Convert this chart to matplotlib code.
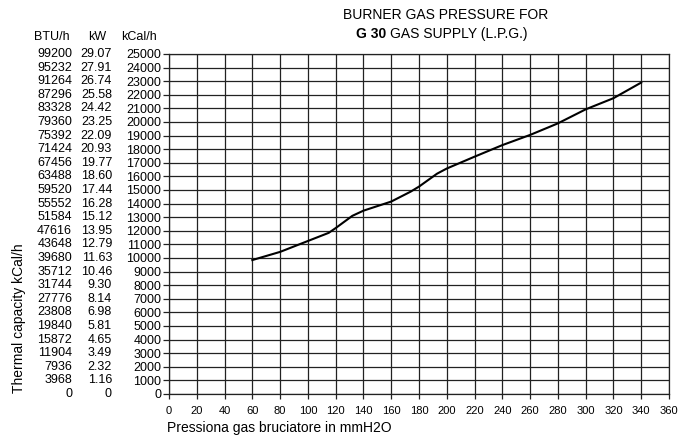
import matplotlib
matplotlib.use("Agg")

import matplotlib.pyplot as plt
import matplotlib.transforms as mtransforms


plt.rcParams["font.family"] = ["Liberation Sans", "DejaVu Sans"]

# curve (pressure mmH2O -> kCal/h)
pressure = [60, 80, 100, 115, 120, 132, 140, 160, 174, 180, 193, 200,
            220, 240, 260, 273, 280, 300, 320, 340]
kcal = [9850, 10450, 11250, 11850, 12200, 13100, 13480, 14150, 14880,
        15250, 16200, 16580, 17450, 18300, 19050, 19600, 19900, 20930,
        21750, 22900]

# left-hand scale columns
kcal_ticks = list(range(0, 26000, 1000))
kw_labels = ["0", "1.16", "2.32", "3.49", "4.65", "5.81", "6.98", "8.14",
             "9.30", "10.46", "11.63", "12.79", "13.95", "15.12", "16.28",
             "17.44", "18.60", "19.77", "20.93", "22.09", "23.25", "24.42",
             "25.58", "26.74", "27.91", "29.07"]
btu_labels = ["0", "3968", "7936", "11904", "15872", "19840", "23808",
              "27776", "31744", "35712", "39680", "43648", "47616", "51584",
              "55552", "59520", "63488", "67456", "71424", "75392", "79360",
              "83328", "87296", "91264", "95232", "99200"]
x_ticks = list(range(0, 380, 20))


W, H = 690, 437

fig = plt.figure(figsize=(6.9, 4.37), dpi=100, facecolor="white")
ax = fig.add_axes([169 / W, 1 - 394 / H, 500 / W, 340 / H])

ax.plot(pressure, kcal, color="black", linewidth=1.5, solid_joinstyle="round")

ax.set_xlim(0, 360)
ax.set_ylim(0, 25000)
ax.set_xticks(x_ticks)
ax.set_yticks(kcal_ticks)
ax.set_yticklabels([str(v) for v in kcal_ticks])

ax.grid(True, color="#222222", linewidth=0.9)
for sp in ax.spines.values():
    sp.set_color("#222222")
    sp.set_linewidth(0.9)

ax.tick_params(axis="both", direction="out", width=0.9, color="#222222")
ax.tick_params(axis="x", length=3.5, labelsize=8, pad=5)
ax.tick_params(axis="y", length=4, labelsize=9, pad=1.5)

# extra scale columns (kW, BTU/h) aligned to the kCal/h ticks
trans = mtransforms.blended_transform_factory(fig.transFigure, ax.transData)
for v, kw, btu in zip(kcal_ticks, kw_labels, btu_labels):
    ax.text(112 / W, v, kw, transform=trans, ha="right", va="center",
            fontsize=9, clip_on=False)
    ax.text(72 / W, v, btu, transform=trans, ha="right", va="center",
            fontsize=9, clip_on=False)

header_y = 1 - 37 / H
fig.text(70 / W, header_y, "BTU/h", ha="right", va="center", fontsize=9)
fig.text(106 / W, header_y, "kW", ha="right", va="center", fontsize=9)
fig.text(157 / W, header_y, "kCal/h", ha="right", va="center", fontsize=9)

# title
fig.text(446 / W, 1 - 15 / H, "BURNER GAS PRESSURE FOR",
         ha="center", va="center", fontsize=10)
t1 = fig.text(356 / W, 1 - 34 / H, "G 30", ha="left", va="center",
              fontsize=10, fontweight="bold")
fig.canvas.draw()
bb = t1.get_window_extent()
fig.text((bb.x1 + 4) / fig.bbox.width, 1 - 34 / H,
         "GAS SUPPLY (L.P.G.)", ha="left", va="center", fontsize=10)

# axis labels
fig.text(167 / W, 1 - 428 / H, "Pressiona gas bruciatore in mmH2O",
         ha="left", va="center", fontsize=10)
fig.text(19 / W, 1 - 318 / H, "Thermal capacity kCal/h",
         ha="center", va="center", rotation=90, fontsize=10)

fig.savefig("out.png", dpi=100, facecolor="white")
plt.close(fig)
